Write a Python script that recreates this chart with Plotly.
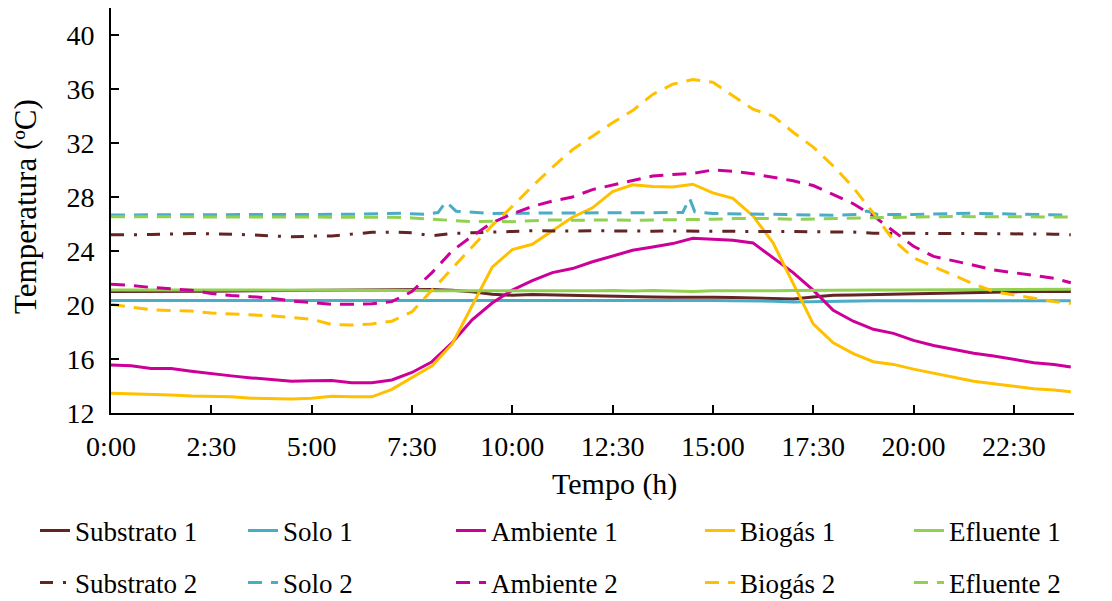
import plotly.graph_objects as go

# ---------------- data ----------------
hours = [0, 0.5, 1, 1.5, 2, 2.5, 3, 3.5, 4, 4.5, 5, 5.5, 6, 6.5, 7, 7.5,
         8, 8.5, 9, 9.5, 10, 10.5, 11, 11.5, 12, 12.5, 13, 13.5, 14, 14.5, 15, 15.5,
         16, 16.5, 17, 17.5, 18, 18.5, 19, 19.5, 20, 20.5, 21, 21.5, 22, 22.5, 23, 23.5, 23.92]

substrato1 = [21.0, 21.0, 21.02, 20.98, 21.0, 21.02, 21.04, 21.05, 21.07, 21.08, 21.1, 21.12, 21.14, 21.16, 21.16, 21.15,
              21.14, 21.1, 20.98, 20.8, 20.72, 20.78, 20.75, 20.72, 20.65, 20.62, 20.58, 20.6, 20.58, 20.6, 20.58, 20.55,
              20.52, 20.48, 20.45, 20.6, 20.72, 20.75, 20.78, 20.8, 20.84, 20.88, 20.92, 20.96, 21.0, 21.0, 21.01, 21.0, 21.0]
solo1 = [20.33, 20.33, 20.34, 20.33, 20.34, 20.34, 20.34, 20.35, 20.35, 20.35, 20.36, 20.36, 20.36, 20.37, 20.37, 20.37,
         20.37, 20.37, 20.37, 20.37, 20.37, 20.38, 20.38, 20.38, 20.38, 20.38, 20.37, 20.37, 20.37, 20.35, 20.33, 20.32,
         20.32, 20.28, 20.22, 20.25, 20.3, 20.31, 20.31, 20.31, 20.31, 20.31, 20.31, 20.31, 20.31, 20.31, 20.31, 20.31, 20.31]
ambiente1 = [15.56, 15.5, 15.3, 15.3, 15.1, 14.9, 14.75, 14.6, 14.5, 14.35, 14.38, 14.4, 14.25, 14.25, 14.45, 15.0,
             15.8, 17.2, 18.9, 20.15, 21.1, 21.8, 22.4, 22.7, 23.2, 23.6, 24.05, 24.3, 24.55, 24.95, 24.87, 24.8,
             24.6, 23.5, 22.4, 21.1, 19.6, 18.8, 18.2, 17.9, 17.38, 17.0, 16.7, 16.42, 16.22, 16.0, 15.73, 15.6, 15.4]
biogas1 = [13.46, 13.42, 13.4, 13.33, 13.26, 13.24, 13.2, 13.1, 13.07, 13.04, 13.1, 13.24, 13.2, 13.2, 13.75, 14.65,
           15.5, 17.1, 19.9, 22.8, 24.1, 24.5, 25.5, 26.5, 27.2, 28.4, 28.9, 28.78, 28.75, 28.95, 28.3, 27.9,
           26.6, 24.6, 21.6, 18.6, 17.2, 16.4, 15.8, 15.6, 15.25, 14.95, 14.6, 14.35, 14.17, 13.98, 13.8, 13.7, 13.58]
efluente1 = [21.12, 21.13, 21.12, 21.13, 21.12, 21.12, 21.12, 21.12, 21.13, 21.13, 21.12, 21.12, 21.1, 21.1, 21.1, 21.08,
             21.05, 21.05, 21.02, 21.0, 21.0, 21.05, 21.0, 21.05, 21.05, 21.08, 21.04, 21.08, 21.06, 21.0, 21.06, 21.05,
             21.06, 21.05, 21.08, 21.1, 21.1, 21.1, 21.12, 21.12, 21.12, 21.13, 21.14, 21.14, 21.15, 21.15, 21.15, 21.16, 21.16]
substrato2 = [25.2, 25.2, 25.22, 25.26, 25.3, 25.28, 25.25, 25.2, 25.12, 25.05, 25.1, 25.12, 25.25, 25.38, 25.4, 25.35,
              25.12, 25.3, 25.35, 25.38, 25.45, 25.5, 25.48, 25.48, 25.5, 25.48, 25.48, 25.47, 25.48, 25.46, 25.47, 25.46,
              25.45, 25.45, 25.44, 25.45, 25.43, 25.4, 25.32, 25.3, 25.3, 25.3, 25.3, 25.3, 25.3, 25.28, 25.3, 25.25, 25.2]
ambiente2 = [21.53, 21.45, 21.3, 21.2, 21.1, 20.85, 20.7, 20.62, 20.5, 20.3, 20.15, 20.05, 20.05, 20.1, 20.25, 21.0,
             22.4, 24.0, 25.1, 26.1, 26.75, 27.3, 27.7, 28.0, 28.55, 28.87, 29.2, 29.55, 29.67, 29.75, 30.0, 29.9,
             29.72, 29.45, 29.2, 28.85, 28.2, 27.5, 26.6, 25.5, 24.35, 23.6, 23.3, 22.95, 22.6, 22.39, 22.22, 21.98, 21.65]
biogas2 = [20.05, 19.85, 19.65, 19.6, 19.56, 19.4, 19.35, 19.27, 19.2, 19.08, 18.95, 18.55, 18.52, 18.6, 18.8, 19.5,
           21.1, 22.7, 24.3, 25.9, 27.3, 28.8, 30.2, 31.5, 32.5, 33.5, 34.4, 35.6, 36.35, 36.7, 36.5, 35.5,
           34.5, 34.0, 32.8, 31.7, 30.3, 28.7, 26.8, 24.8, 23.5, 22.85, 22.2, 21.55, 21.0, 20.77, 20.5, 20.25, 20.12]
efluente2 = [26.54, 26.54, 26.55, 26.54, 26.54, 26.55, 26.54, 26.54, 26.54, 26.53, 26.54, 26.53, 26.52, 26.5, 26.5, 26.45,
             26.35, 26.3, 26.17, 26.2, 26.17, 26.25, 26.3, 26.28, 26.3, 26.3, 26.28, 26.3, 26.3, 26.3, 26.35, 26.4,
             26.42, 26.4, 26.35, 26.38, 26.4, 26.42, 26.45, 26.52, 26.54, 26.54, 26.55, 26.54, 26.55, 26.54, 26.54, 26.54, 26.52]

solo2_hours = [0, 2, 4, 6, 7.25, 7.8, 8.15, 8.35, 8.6, 9, 9.5, 10, 11, 12, 13, 14, 14.25, 14.42, 14.55,
               15, 16, 17, 18, 18.6, 18.84, 19.1, 20, 21.4, 22.5, 23.92]
solo2 = [26.67, 26.68, 26.7, 26.72, 26.79, 26.72, 26.85, 27.65, 26.95, 26.85, 26.78, 26.8, 26.8, 26.8, 26.82, 26.82,
         26.85, 27.9, 26.9, 26.78, 26.75, 26.7, 26.65, 26.7, 26.95, 26.7, 26.7, 26.8, 26.75, 26.65]

tick_hours = [0, 2.5, 5, 7.5, 10, 12.5, 15, 17.5, 20, 22.5]
tick_labels = ["0:00", "2:30", "5:00", "7:30", "10:00", "12:30", "15:00", "17:30", "20:00", "22:30"]
y_ticks = [12, 16, 20, 24, 28, 32, 36, 40]

# ---------------- styling ----------------
FONT = "Liberation Serif"
C_SUB, C_SOLO, C_AMB, C_BIO, C_EFL = "#632523", "#4BACC6", "#CC0099", "#FFC000", "#92D050"
DASH = "14px,9px"
DASHDOT = "13px,10px,3px,10px"
LW = 3

series = [
    ("Substrato 1", hours, substrato1, C_SUB, "solid", "legend"),
    ("Solo 1", hours, solo1, C_SOLO, "solid", "legend"),
    ("Ambiente 1", hours, ambiente1, C_AMB, "solid", "legend"),
    ("Biogás 1", hours, biogas1, C_BIO, "solid", "legend2"),
    ("Efluente 1", hours, efluente1, C_EFL, "solid", "legend2"),
    ("Substrato 2", hours, substrato2, C_SUB, DASHDOT, "legend3"),
    ("Solo 2", solo2_hours, solo2, C_SOLO, DASH, "legend3"),
    ("Ambiente 2", hours, ambiente2, C_AMB, DASH, "legend3"),
    ("Biogás 2", hours, biogas2, C_BIO, DASH, "legend4"),
    ("Efluente 2", hours, efluente2, C_EFL, DASH, "legend4"),
]

fig = go.Figure()
for name, xs, ys, color, dash, leg in series:
    fig.add_trace(go.Scatter(x=xs, y=ys, name=name, mode="lines",
                             line=dict(color=color, width=LW, dash=dash),
                             legend=leg))

# plot area geometry (px)
W, H = 1112, 601
L, R, T, B = 111, 1074, 8, 413
pw, ph = R - L, B - T

def px_x(x):
    return (x - L) / pw

def px_y(y):
    return (B - y) / ph

legend_common = dict(orientation="h", xanchor="left", yanchor="middle",
                      bgcolor="rgba(0,0,0,0)", borderwidth=0,
                      font=dict(family=FONT, size=27, color="#000"),
                      entrywidthmode="pixels", traceorder="normal")

fig.update_layout(
    width=W, height=H,
    margin=dict(l=L, r=W - R, t=T, b=H - B, autoexpand=False),
    paper_bgcolor="white", plot_bgcolor="white",
    font=dict(family=FONT, size=28, color="#000"),
    showlegend=True,
    legend=dict(x=px_x(35), y=px_y(531), entrywidth=163, **legend_common),
    legend2=dict(x=px_x(700), y=px_y(531), entrywidth=164, **legend_common),
    legend3=dict(x=px_x(35), y=px_y(583), entrywidth=163, **legend_common),
    legend4=dict(x=px_x(700), y=px_y(583), entrywidth=164, **legend_common),
    xaxis=dict(range=[0, 24.0], tickmode="array", tickvals=tick_hours, ticktext=tick_labels,
               showgrid=False, zeroline=False, showline=True, linecolor="#000", linewidth=2,
               ticks="inside", ticklen=8, tickwidth=2, tickcolor="#000",
               tickfont=dict(family=FONT, size=28, color="#000"), ticklabelstandoff=7),
    yaxis=dict(range=[12, 42], tickmode="array", tickvals=y_ticks,
               showgrid=False, zeroline=False, showline=True, linecolor="#000", linewidth=2,
               ticks="inside", ticklen=8, tickwidth=2, tickcolor="#000",
               tickfont=dict(family=FONT, size=28, color="#000"), ticklabelstandoff=9),
    annotations=[
        dict(text="Tempo (h)", xref="paper", yref="paper", x=px_x(614), y=px_y(484),
             xanchor="center", yanchor="middle", showarrow=False,
             font=dict(family=FONT, size=30, color="#000")),
        dict(text="Temperatura (ºC)", xref="paper", yref="paper", x=px_x(25), y=px_y(207),
             xanchor="center", yanchor="middle", showarrow=False, textangle=-90,
             font=dict(family=FONT, size=31, color="#000")),
    ],
)

fig.write_html("out.html")
